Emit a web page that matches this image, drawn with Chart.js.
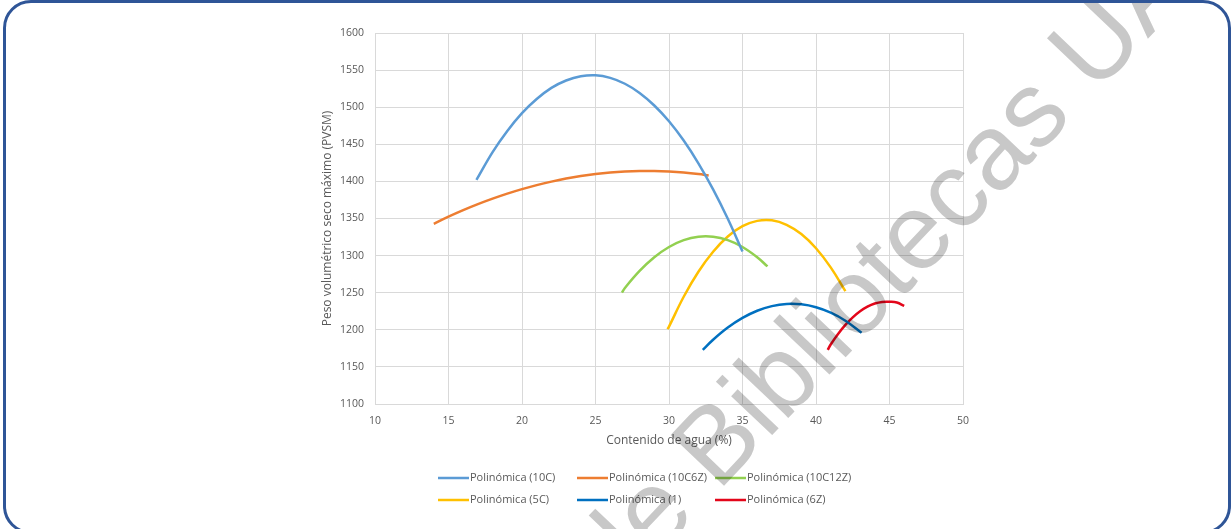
<!DOCTYPE html>
<html>
<head>
<meta charset="utf-8">
<script src="https://cdn.jsdelivr.net/npm/chart.js@4.4.1/dist/chart.umd.min.js"></script>
<style>
  html, body { margin: 0; padding: 0; background: #ffffff; }
  #wrap { position: relative; width: 1231px; height: 529px; overflow: hidden; }
  #c { position: absolute; left: 0; top: 0; }
  #frame {
    position: absolute; left: 3px; top: 0; width: 1228px; height: 534px;
    box-sizing: border-box; border: 3px solid #2F5597; border-radius: 28px;
    pointer-events: none;
  }
</style>
</head>
<body>
<div id="wrap">
  <canvas id="c" width="1231" height="529"></canvas>
  <div id="frame"></div>
</div>
<script>
// Contenido de agua (%) vs. peso volumétrico seco máximo, one polynomial trend per mix
const pol10C_x = [16.9, 18, 19, 20, 21, 22, 23, 24, 25, 26, 27, 28, 29, 30, 31, 32, 33, 34, 35];
const pol10C_y = [1402, 1439.5, 1468, 1492, 1511, 1526, 1536, 1541.7, 1543, 1539.5, 1531.6, 1519.2, 1502.3, 1481, 1455, 1424.3, 1389.2, 1349.6, 1305.4];

const pol10C6Z_x = [14, 15, 16, 17, 18, 19, 20, 21, 22, 23, 24, 25, 26, 27, 28, 29, 30, 31, 32, 32.7];
const pol10C6Z_y = [1342.8, 1352.4, 1361.2, 1369.3, 1376.7, 1383.5, 1389.6, 1395, 1399.7, 1403.8, 1407.2, 1409.9, 1411.9, 1413.2, 1413.9, 1413.9, 1413.2, 1411.9, 1409.9, 1408];

const pol10C12Z_x = [26.8, 27, 28, 29, 30, 31, 32, 33, 34, 35, 36, 36.7];
const pol10C12Z_y = [1250, 1256.4, 1279.4, 1297.8, 1311.6, 1320.8, 1325.4, 1325.4, 1320.8, 1311.6, 1297.8, 1285.4];

const pol5C_x = [29.9, 30, 31, 32, 33, 34, 35, 36, 37, 38, 39, 40, 41, 42];
const pol5C_y = [1201, 1204.3, 1244.5, 1278.2, 1305.2, 1325.7, 1339.6, 1346.8, 1347.5, 1341.5, 1329, 1309.9, 1284.1, 1252];

const pol1_x = [32.3, 33, 34, 35, 36, 37, 38, 39, 40, 41, 42, 43.1];
const pol1_y = [1173, 1186.6, 1203, 1216, 1225.7, 1231.9, 1234.8, 1234.3, 1230.4, 1223.1, 1212.3, 1196];

const pol6Z_x = [40.8, 41, 41.5, 42, 42.5, 43, 43.5, 44, 44.5, 45, 45.5, 46];
const pol6Z_y = [1173, 1180.2, 1194.4, 1206.6, 1216.8, 1225, 1231.2, 1235.4, 1237.6, 1237.8, 1236.8, 1232.2];

const seriesNames = ['Polinómica (10C)', 'Polinómica (10C6Z)', 'Polinómica (10C12Z)',
                     'Polinómica (5C)', 'Polinómica (1)', 'Polinómica (6Z)'];
const seriesColors = ['#5B9BD5', '#ED7D31', '#92D050', '#FFC000', '#0070C0', '#E3061A'];

const xTickValues = [10, 15, 20, 25, 30, 35, 40, 45, 50];
const yTickValues = [1100, 1150, 1200, 1250, 1300, 1350, 1400, 1450, 1500, 1550, 1600];

const xTitle = 'Contenido de agua (%)';
const yTitle = 'Peso volumétrico seco máximo (PVSM)';
const watermarkText = 'de Bibliotecas UA';

const TEXT = '#595959';
const GRID = '#d9d9d9';
const FONT = '"Open Sans", "Liberation Sans", sans-serif';

function pairs(xs, ys) { return xs.map((x, i) => ({ x: x, y: ys[i] })); }

const seriesData = [
  pairs(pol10C_x, pol10C_y),
  pairs(pol10C6Z_x, pol10C6Z_y),
  pairs(pol10C12Z_x, pol10C12Z_y),
  pairs(pol5C_x, pol5C_y),
  pairs(pol1_x, pol1_y),
  pairs(pol6Z_x, pol6Z_y)
];

const datasets = seriesData.map((d, i) => ({
  label: seriesNames[i],
  data: d,
  showLine: true,
  borderColor: seriesColors[i],
  backgroundColor: seriesColors[i],
  borderWidth: 2.5,
  pointRadius: 0,
  pointHoverRadius: 0,
  tension: 0.4,
  fill: false
}));

// Legend laid out as a fixed two-row grid under the plot
const gridLegend = {
  id: 'gridLegend',
  afterDraw(chart) {
    const ctx = chart.ctx;
    const colX = [438, 577, 715];
    const rowY = [478, 500];
    ctx.save();
    ctx.font = '11px ' + FONT;
    ctx.textBaseline = 'middle';
    ctx.textAlign = 'left';
    chart.data.datasets.forEach((ds, i) => {
      const x = colX[i % 3];
      const y = rowY[Math.floor(i / 3)];
      ctx.strokeStyle = ds.borderColor;
      ctx.lineWidth = 2.5;
      ctx.beginPath();
      ctx.moveTo(x, y);
      ctx.lineTo(x + 31, y);
      ctx.stroke();
      ctx.fillStyle = TEXT;
      ctx.fillText(ds.label, x + 32, y);
    });
    ctx.restore();
  }
};

// Diagonal library stamp across the figure
const stamp = {
  id: 'stamp',
  afterDraw(chart) {
    const ctx = chart.ctx;
    ctx.save();
    ctx.globalCompositeOperation = 'multiply';
    ctx.fillStyle = '#c8c8c8';
    ctx.font = '107px "Liberation Sans", Arial, sans-serif';
    ctx.textBaseline = 'alphabetic';
    ctx.translate(718, 492);
    ctx.rotate(-46.5 * Math.PI / 180);
    const lead = ctx.measureText('de ').width;
    ctx.fillText(watermarkText, -lead, 0);
    ctx.restore();
  }
};

new Chart(document.getElementById('c'), {
  type: 'scatter',
  data: { datasets: datasets },
  options: {
    responsive: false,
    animation: false,
    devicePixelRatio: 1,
    layout: { padding: { left: 300, right: 268, top: 33, bottom: 75 } },
    plugins: { legend: { display: false }, tooltip: { enabled: false } },
    scales: {
      x: {
        type: 'linear',
        min: 10, max: 50,
        afterBuildTicks(scale) { scale.ticks = xTickValues.map(v => ({ value: v })); },
        afterFit(scale) { scale.height = 50; },
        grid: { color: GRID, lineWidth: 1, drawTicks: false },
        border: { color: GRID, width: 1 },
        ticks: { color: TEXT, font: { family: FONT, size: 10.5 }, padding: 11, maxRotation: 0,
                 callback: v => String(v) },
        title: { display: true, text: xTitle, color: TEXT, font: { family: FONT, size: 12 }, padding: { top: 0, bottom: 6 } }
      },
      y: {
        type: 'linear',
        min: 1100, max: 1600,
        afterBuildTicks(scale) { scale.ticks = yTickValues.map(v => ({ value: v })); },
        afterFit(scale) { scale.width = 75; },
        grid: { color: GRID, lineWidth: 1, drawTicks: false },
        border: { color: GRID, width: 1 },
        ticks: { color: TEXT, font: { family: FONT, size: 10.5 }, padding: 11,
                 callback: v => String(v) },
        title: { display: true, text: yTitle, color: TEXT, font: { family: FONT, size: 12 }, padding: { top: 20, bottom: 0 } }
      }
    }
  },
  plugins: [gridLegend, stamp]
});
</script>
</body>
</html>
